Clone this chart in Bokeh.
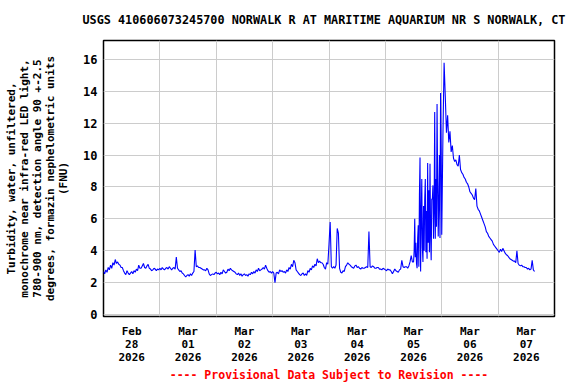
from bokeh.plotting import figure
from bokeh.models import FixedTicker, Range1d
from bokeh.embed import file_html
from bokeh.resources import INLINE

title_text = "USGS 410606073245700 NORWALK R AT MARITIME AQUARIUM NR S NORWALK, CT"
ylabel_text = ("Turbidity, water, unfiltered,\nmonochrome near infra-red LED light,\n"
               "780-900 nm, detection angle 90 +-2.5\ndegrees, formazin nephelometric units\n(FNU)")
footer_text = "---- Provisional Data Subject to Revision ----"

# x tick labels (centred at noon of each day)
tick_labels = ["Feb\n28\n2026", "Mar\n01\n2026", "Mar\n02\n2026", "Mar\n03\n2026",
               "Mar\n04\n2026", "Mar\n05\n2026", "Mar\n06\n2026", "Mar\n07\n2026"]
y_ticks = [0, 2, 4, 6, 8, 10, 12, 14, 16]

# half-hourly turbidity readings (FNU), one list per day starting 00:00
feb28 = [2.7, 2.55, 2.8, 2.65, 2.95, 2.8, 3.1, 2.9, 3.25, 3.1, 3.45, 3.2,
         3.3, 3.15, 3.1, 2.95, 2.95, 2.75, 2.6, 2.5, 2.75, 2.6, 2.5, 2.6,
         2.7, 2.55, 2.75, 2.65, 2.85, 2.75, 3.1, 2.9, 2.9, 3.05, 3.2, 2.95,
         2.9, 3.05, 3.15, 2.9, 2.85, 2.75, 2.8, 2.9, 2.85, 2.75, 2.85, 2.8]
mar01 = [2.9, 2.8, 2.95, 2.85, 2.8, 2.9, 2.95, 2.85, 3.0, 2.9, 2.8, 2.9,
         2.95, 2.85, 3.6, 2.9, 2.8, 2.7, 2.75, 2.6, 2.55, 2.45, 2.35, 2.45,
         2.5, 2.4, 2.55, 2.45, 2.6, 2.7, 4.05, 3.0, 3.05, 2.95, 2.95, 2.9,
         2.85, 2.8, 2.8, 2.75, 2.9, 2.8, 2.55, 2.45, 2.5, 2.55, 2.5, 2.6]
mar02 = [2.65, 2.55, 2.6, 2.5, 2.65, 2.55, 2.8, 2.7, 2.6, 2.65, 2.85, 2.75,
         2.9, 2.8, 2.75, 2.7, 2.65, 2.55, 2.5, 2.6, 2.45, 2.55, 2.4, 2.5,
         2.55, 2.45, 2.5, 2.4, 2.55, 2.5, 2.65, 2.55, 2.7, 2.6, 2.8, 2.7,
         2.9, 2.75, 2.8, 2.85, 2.95, 2.85, 3.1, 2.9, 2.75, 2.65, 2.7, 2.6]
mar03 = [2.7, 2.6, 2.0, 2.6, 2.65, 2.55, 2.8, 2.7, 2.75, 2.65, 2.7, 2.6,
         2.8, 2.7, 2.95, 2.85, 3.15, 3.0, 3.4, 3.25, 2.8, 2.7, 2.6, 2.5,
         2.45, 2.55, 2.6, 2.45, 2.55, 2.45, 2.75, 2.65, 2.9, 2.8, 3.05, 2.95,
         3.15, 3.05, 3.5, 3.25, 3.35, 3.25, 3.25, 3.15, 2.95, 2.85, 3.25, 3.15]
mar04 = [4.4, 5.8, 3.0, 2.9, 3.0, 2.9, 3.1, 5.4, 5.1, 2.9, 2.65, 2.6,
         2.75, 2.7, 3.0, 3.1, 3.25, 3.15, 3.1, 3.0, 2.95, 2.9, 3.05, 3.1,
         2.95, 3.0, 2.9, 2.85, 2.95, 2.9, 2.9, 2.95, 3.0, 2.95, 5.2, 3.0,
         2.95, 3.05, 3.0, 2.9, 2.9, 2.95, 2.95, 2.85, 2.85, 2.8, 2.9, 2.85]
# Mar 05 00:00-11:30 half-hourly
mar05_am = [2.8, 2.75, 2.85, 2.8, 2.8, 2.7, 2.55, 2.7, 2.85, 2.75, 2.7, 2.65,
            2.8, 2.85, 3.4, 3.0, 2.95, 3.0, 3.0, 2.9, 3.05, 3.3, 3.7, 3.3]
# Mar 05 12:00-23:45 quarter-hourly (the storm burst)
mar05_pm = [3.3, 4.0, 6.0, 3.6, 4.5, 3.2, 2.9, 4.8,
            5.6, 3.0, 7.5, 9.85, 2.7, 6.0, 8.5, 4.2,
            3.3, 6.8, 4.0, 7.2, 8.5, 3.9, 6.5, 3.5,
            9.5, 4.5, 7.8, 3.9, 9.45, 5.0, 3.4, 7.25,
            7.25, 8.1, 4.75, 6.5, 12.7, 4.75, 8.5, 5.5,
            13.2, 8.3, 4.9, 7.0, 10.0, 4.8, 13.9, 10.4]
mar06 = [5.0, 11.2, 15.8, 13.7, 11.4, 12.5, 10.8, 11.5, 10.2, 10.6, 9.8, 9.6,
         9.7, 9.4, 9.3, 10.0, 9.1, 8.9, 8.8, 8.6, 8.5, 8.3, 8.2, 8.0,
         7.7, 7.6, 7.5, 7.3, 7.2, 7.9, 6.8, 6.6, 6.5, 6.3, 6.1, 5.9,
         5.7, 5.5, 5.2, 5.1, 4.9, 4.8, 4.7, 4.6, 4.4, 4.3, 4.2, 4.1]
mar07 = [4.0, 3.9, 4.1, 3.95, 4.15, 4.0, 3.85, 3.75, 3.7, 3.6, 3.5, 3.45,
         3.4, 3.35, 3.35, 3.25, 4.0, 3.2, 3.1, 3.05, 3.1, 3.0, 3.0, 2.95,
         2.95, 2.85, 2.9, 2.8, 2.85, 3.4, 2.8, 2.7]

# (start in days since Feb 28 00:00, step in days, readings)
segments = [(0.0, 1 / 48, feb28), (1.0, 1 / 48, mar01), (2.0, 1 / 48, mar02),
            (3.0, 1 / 48, mar03), (4.0, 1 / 48, mar04), (5.0, 1 / 48, mar05_am),
            (5.5, 1 / 96, mar05_pm), (6.0, 1 / 48, mar06), (7.0, 1 / 48, mar07)]
xs, ys = [], []
for start, step, vals in segments:
    for k, v in enumerate(vals):
        xs.append(start + k * step)
        ys.append(v)

FONT = "DejaVu Sans Mono"

p = figure(width=576, height=384, output_backend="svg", toolbar_location=None,
           x_range=Range1d(0, 8), y_range=Range1d(-0.125, 17.19),
           min_border_left=103, min_border_right=22, min_border_top=40, min_border_bottom=68)
p.background_fill_color = "white"
p.border_fill_color = "white"
p.outline_line_color = "black"
p.outline_line_width = 1.5

# title: a trailing blank line lifts the text block away from the frame
p.title.text = title_text + "\n "
p.title.align = "left"
p.title.offset = -21
p.title.standoff = 0
p.title.vertical_align = "bottom"
p.title.text_font = FONT
p.title.text_font_style = "bold"
p.title.text_font_size = "11.8px"
p.title.text_color = "black"

p.line(xs, ys, line_color="#0000ff", line_width=1.1)

# axes
p.xaxis.ticker = FixedTicker(ticks=[i + 0.5 for i in range(8)])
p.xaxis.major_label_overrides = {i + 0.5: t for i, t in enumerate(tick_labels)}
p.yaxis.ticker = FixedTicker(ticks=y_ticks)
for ax in (p.xaxis, p.yaxis):
    ax.axis_line_color = None
    ax.major_tick_line_color = None
    ax.minor_tick_line_color = None
    ax.major_tick_in = 0
    ax.major_tick_out = 0
    ax.major_label_text_font = FONT
    ax.major_label_text_font_style = "bold"
    ax.major_label_text_color = "black"
p.xaxis.major_label_text_font_size = "11px"
p.xaxis.major_label_text_line_height = 1.0
p.yaxis.major_label_text_font_size = "12px"
p.xaxis.major_label_standoff = 8
p.yaxis.major_label_standoff = 6

p.yaxis.axis_label = ylabel_text
p.yaxis.axis_label_text_font = FONT
p.yaxis.axis_label_text_font_style = "bold"
p.yaxis.axis_label_text_font_size = "11px"
p.yaxis.axis_label_text_line_height = 1.0
p.yaxis.axis_label_text_color = "black"
p.yaxis.axis_label_standoff = 10

# footer as the x-axis label
p.xaxis.axis_label = footer_text
p.xaxis.axis_label_text_font = FONT
p.xaxis.axis_label_text_font_style = "bold"
p.xaxis.axis_label_text_font_size = "11.5px"
p.xaxis.axis_label_text_color = "#ff0000"
p.xaxis.axis_label_standoff = 1

p.xgrid.ticker = FixedTicker(ticks=[1, 2, 3, 4, 5, 6, 7])
p.ygrid.ticker = FixedTicker(ticks=y_ticks)
p.xgrid.grid_line_color = "#cccccc"
p.ygrid.grid_line_color = "#cccccc"
p.xgrid.grid_line_width = 1
p.ygrid.grid_line_width = 1

open("out.html", "w").write(file_html(p, INLINE))
